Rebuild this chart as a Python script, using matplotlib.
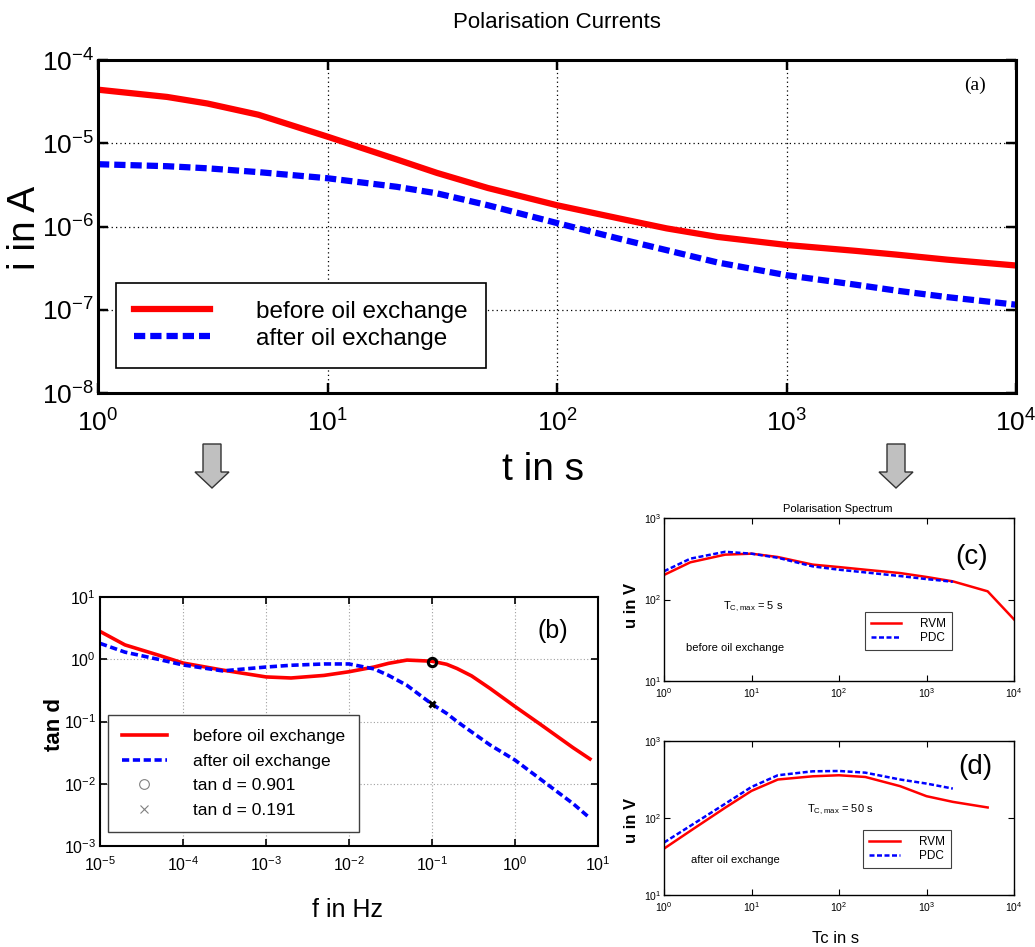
import matplotlib
matplotlib.use("Agg")
import matplotlib.pyplot as plt
from matplotlib.lines import Line2D
from matplotlib.patches import FancyArrow
from matplotlib.ticker import LogLocator, NullLocator

# (a) polarisation currents
t_s = [1, 2, 3, 5, 10, 20, 30, 50, 100, 200, 300, 500, 1000, 2000, 3000, 5000, 10000]
i_before = [4.4e-5, 3.6e-5, 3.0e-5, 2.2e-5, 1.2e-5, 6.4e-6, 4.4e-6, 2.9e-6, 1.8e-6,
            1.2e-6, 9.5e-7, 7.5e-7, 6.0e-7, 5.1e-7, 4.6e-7, 4.0e-7, 3.4e-7]
i_after = [5.6e-6, 5.3e-6, 5.0e-6, 4.5e-6, 3.8e-6, 3.0e-6, 2.5e-6, 1.8e-6, 1.1e-6,
           6.8e-7, 5.2e-7, 3.7e-7, 2.6e-7, 2.0e-7, 1.7e-7, 1.42e-7, 1.15e-7]

# (b) dissipation factor
f_hz = [1e-5, 2e-5, 5e-5, 1e-4, 3e-4, 1e-3, 2e-3, 5e-3, 1e-2, 2e-2, 3e-2, 5e-2, 1e-1,
        1.5e-1, 2e-1, 3e-1, 5e-1, 1, 2, 5, 8]
tan_before = [2.8, 1.7, 1.17, 0.87, 0.67, 0.52, 0.50, 0.55, 0.63, 0.75, 0.86, 0.97, 0.93,
              0.83, 0.71, 0.54, 0.34, 0.174, 0.091, 0.038, 0.025]
tan_after = [1.8, 1.3, 1.0, 0.81, 0.65, 0.75, 0.80, 0.84, 0.84, 0.70, 0.55, 0.38, 0.19,
             0.135, 0.10, 0.068, 0.042, 0.024, 0.012, 0.0048, 0.0028]
mark_f = 0.1
mark_before = 0.901
mark_after = 0.191

# (c) polarisation spectrum before oil exchange
tc_c = [1, 2, 5, 10, 20, 50, 100, 200, 500, 1000, 2000, 5000, 10000]
rvm_c = [200, 286, 355, 365, 332, 268, 250, 232, 211, 189, 167, 126, 57]
tc_c_pdc = [1, 2, 5, 10, 20, 50, 100, 200, 500, 1000, 2000]
pdc_c = [222, 317, 385, 365, 325, 255, 232, 215, 194, 178, 165]

# (d) polarisation spectrum after oil exchange
tc_d = [1, 2, 5, 10, 20, 50, 100, 200, 500, 1000, 2000, 5000]
rvm_d = [40, 68, 136, 225, 316, 348, 359, 341, 259, 192, 162, 137]
tc_d_pdc = [1, 2, 5, 10, 20, 50, 100, 200, 500, 1000, 2000]
pdc_d = [48, 79, 153, 253, 359, 404, 408, 388, 316, 280, 241]

RED = "#ff0000"
BLUE = "#0000ff"
SANS = ["Liberation Sans", "DejaVu Sans"]

plt.rcParams["font.family"] = SANS
plt.rcParams["mathtext.default"] = "regular"
plt.rcParams["axes.unicode_minus"] = False

W, H = 1035, 947
fig = plt.figure(figsize=(W / 100, H / 100), dpi=100)


def box(x0, y0, x1, y1):
    # pixel box (top-left origin) -> figure fraction rect
    return [x0 / W, 1 - y1 / H, (x1 - x0) / W, (y1 - y0) / H]


def log_axes(ax, xlim, ylim, labelsize, spine_w, tick_len, pad):
    ax.set_xscale("log")
    ax.set_yscale("log")
    ax.set_xlim(*xlim)
    ax.set_ylim(*ylim)
    ax.xaxis.set_major_locator(LogLocator(base=10, numticks=20))
    ax.yaxis.set_major_locator(LogLocator(base=10, numticks=20))
    ax.xaxis.set_minor_locator(NullLocator())
    ax.yaxis.set_minor_locator(NullLocator())
    ax.tick_params(which="major", direction="in", top=True, right=True,
                   labelsize=labelsize, length=tick_len, width=spine_w * 0.8, pad=pad)
    for s in ax.spines.values():
        s.set_linewidth(spine_w)


# ---- (a)
ax_a = fig.add_axes(box(98, 60, 1016, 393))
log_axes(ax_a, (1, 1e4), (1e-8, 1e-4), 19, 2.2, 7, 3)
ax_a.tick_params(axis="x", pad=12)
ax_a.grid(True, which="major", color="black", linestyle=(0, (1, 2.5)), linewidth=0.9)
ax_a.plot(t_s, i_before, color=RED, lw=4.5, label="before oil exchange")
ax_a.plot(t_s, i_after, color=BLUE, lw=4.5, linestyle=(0, (1.8, 0.8)),
          label="after oil exchange")
leg = ax_a.legend(loc="lower left", bbox_to_anchor=(0.0196, 0.075), fontsize=17.5,
                  handlelength=3.1, handletextpad=1.9, labelspacing=0.2,
                  borderpad=0.75, borderaxespad=0, fancybox=False, framealpha=1,
                  edgecolor="black")
leg.get_frame().set_linewidth(1.2)
ax_a.text(0.955, 0.925, "(a)", transform=ax_a.transAxes, ha="center", va="center",
          fontsize=14, family=["Liberation Serif", "DejaVu Serif"])
fig.text(557 / W, 1 - 22 / H, "Polarisation Currents", ha="center", va="center", fontsize=16)
fig.text(543 / W, 1 - 470 / H, "t in s", ha="center", va="center", fontsize=28)
fig.text(25 / W, 1 - 228 / H, "i in A", ha="center", va="center", fontsize=28, rotation=90)

# down arrows
for xc in (212, 896):
    fig.add_artist(FancyArrow(xc / W, 1 - 444 / H, 0, -44 / H, width=18 / W,
                              head_width=34 / W, head_length=16 / H,
                              length_includes_head=True, transform=fig.transFigure,
                              facecolor="#c0c0c0", edgecolor="#333333", lw=1))

# ---- (b)
ax_b = fig.add_axes(box(100, 597, 598, 846))
log_axes(ax_b, (1e-5, 10), (1e-3, 10), 11.5, 1.5, 5, 3)
ax_b.tick_params(axis="x", pad=7)
ax_b.grid(True, which="major", color="#a0a0a0", linestyle=(0, (1, 2)), linewidth=0.8)
ax_b.plot(f_hz, tan_before, color=RED, lw=2.6)
ax_b.plot(f_hz, tan_after, color=BLUE, lw=2.6, linestyle=(0, (2, 1)))
ax_b.plot([mark_f], [mark_before], marker="o", color="black", ms=6, mew=2.2,
          mfc="none", ls="none")
ax_b.plot([mark_f], [mark_after], marker="x", color="black", ms=5, mew=2.2, ls="none")
handles_b = [
    Line2D([], [], color=RED, lw=2.6),
    Line2D([], [], color=BLUE, lw=2.6, linestyle=(0, (2, 1))),
    Line2D([], [], color="#808080", marker="o", mfc="none", ms=7, mew=0.8, ls="none"),
    Line2D([], [], color="#808080", marker="x", ms=6, mew=0.8, ls="none"),
]
labels_b = ["before oil exchange", "after oil exchange",
            "tan d = " + str(mark_before), "tan d = " + str(mark_after)]
leg_b = ax_b.legend(handles_b, labels_b, loc="lower left", bbox_to_anchor=(0.016, 0.056),
                    fontsize=12.5, handlelength=2.6, handletextpad=1.5, labelspacing=0.55,
                    borderpad=0.8, borderaxespad=0, fancybox=False, framealpha=1,
                    edgecolor="#404040")
leg_b.get_frame().set_linewidth(1.0)
ax_b.text(0.91, 0.865, "(b)", transform=ax_b.transAxes, ha="center", va="center",
          fontsize=18)
fig.text(347 / W, 1 - 910 / H, "f in Hz", ha="center", va="center", fontsize=18)
fig.text(55 / W, 1 - 724 / H, "tan d", ha="center", va="center", fontsize=16,
         rotation=90, fontweight="bold")

# ---- (c) and (d)
spec = [
    (box(664, 518, 1014, 681), tc_c, rvm_c, tc_c_pdc, pdc_c, "(c)", "$T_{C,max}$ = 5 s",
     (0.169, 0.454), "before oil exchange", (0.063, 0.202), (0.88, 0.76),
     (0.574, 0.423)),
    (box(664, 741, 1014, 895), tc_d, rvm_d, tc_d_pdc, pdc_d, "(d)", "$T_{C,max}$ = 50 s",
     (0.409, 0.552), "after oil exchange", (0.077, 0.227), (0.889, 0.83),
     (0.569, 0.422)),
]
for rect, tx, rvm, tpx, pdc, tag, tcm, tcm_xy, note, note_xy, tag_xy, leg_xy in spec:
    ax = fig.add_axes(rect)
    log_axes(ax, (1, 1e4), (10, 1e3), 7.5, 1.0, 4, 2)
    ax.tick_params(axis="x", pad=4)
    ax.plot(tx, rvm, color=RED, lw=1.8, label="RVM")
    ax.plot(tpx, pdc, color=BLUE, lw=1.8, linestyle=(0, (2, 1)), label="PDC")
    lg = ax.legend(loc="upper left", bbox_to_anchor=leg_xy, fontsize=8.5,
                   handlelength=2.6, handletextpad=1.6, labelspacing=0.2,
                   borderpad=0.5, borderaxespad=0, fancybox=False, framealpha=1,
                   edgecolor="#404040")
    lg.get_frame().set_linewidth(0.8)
    ax.text(*tcm_xy, tcm, transform=ax.transAxes, ha="left", va="center", fontsize=8)
    ax.text(*note_xy, note, transform=ax.transAxes, ha="left", va="center", fontsize=8)
    ax.text(*tag_xy, tag, transform=ax.transAxes, ha="center", va="center", fontsize=20)

fig.text(838 / W, 1 - 509 / H, "Polarisation Spectrum", ha="center", va="center", fontsize=8)
for yc in (605, 820):
    fig.text(631 / W, 1 - yc / H, "u in V", ha="center", va="center", fontsize=12,
             rotation=90, fontweight="bold")
fig.text(836 / W, 1 - 938 / H, "Tc in s", ha="center", va="center", fontsize=12)

fig.savefig("out.png", dpi=100)
